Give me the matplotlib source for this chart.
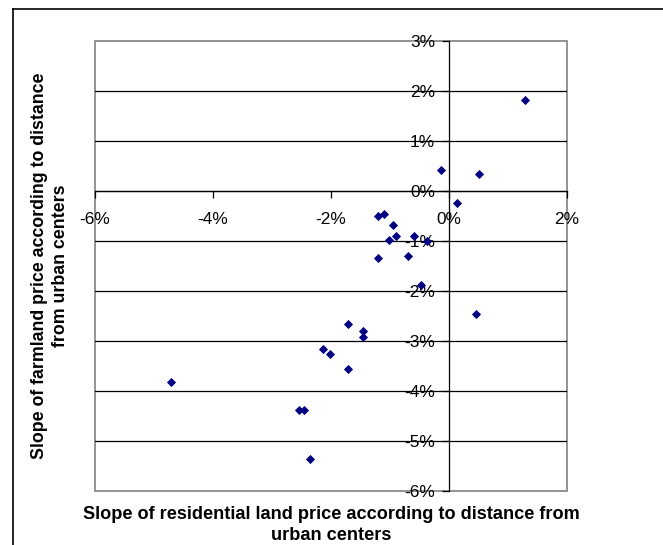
import matplotlib.pyplot as plt
import numpy as np
from matplotlib.ticker import FuncFormatter, MultipleLocator
from matplotlib.lines import Line2D

plt.rcParams['font.family'] = ['Liberation Sans', 'DejaVu Sans']

# slope of residential land price (%), slope of farmland price (%)
resid = [1.29, -0.14, 0.50, 0.13, -1.21, -1.11, -0.95, -0.90, -1.02, -0.59,
         -0.38, -1.20, -0.69, -0.48, 0.46, -1.72, -1.46, -1.46, -2.14, -2.02,
         -1.72, -4.72, -2.55, -2.45, -2.36]
farm = [1.82, 0.43, 0.34, -0.23, -0.49, -0.45, -0.67, -0.89, -0.98, -0.89,
        -0.99, -1.33, -1.30, -1.87, -2.46, -2.66, -2.80, -2.91, -3.16, -3.26,
        -3.55, -3.81, -4.37, -4.37, -5.35]

xlabel = "Slope of residential land price according to distance from\nurban centers"
ylabel = "Slope of farmland price according to distance\nfrom urban centers"

fig = plt.figure(figsize=(6.63, 5.45), dpi=100)
ax = fig.add_axes([95/663, 1-491/545, 472/663, 450/545])

ax.plot(resid, farm, linestyle='none', marker='D', markersize=4.5,
        markeredgewidth=0.6, color='#000080', zorder=5, clip_on=False)

ax.set_xlim(-6, 2)
ax.set_ylim(-6, 3)
ax.xaxis.set_major_locator(MultipleLocator(2))
ax.yaxis.set_major_locator(MultipleLocator(1))
pct = FuncFormatter(lambda v, p: "%d%%" % round(v))
ax.xaxis.set_major_formatter(pct)
ax.yaxis.set_major_formatter(pct)

for y in range(-5, 3):
    ax.axhline(y, color='black', lw=0.9, zorder=1)

# axes cross at zero, Excel style
ax.spines['left'].set_position(('data', 0))
ax.spines['bottom'].set_position(('data', 0))
ax.spines['right'].set_visible(False)
ax.spines['top'].set_visible(False)
for s in ['left', 'bottom']:
    ax.spines[s].set_color('black')
    ax.spines[s].set_linewidth(0.9)
ax.tick_params(axis='x', direction='out', length=5, width=0.9, pad=10, labelsize=12.4)
ax.tick_params(axis='y', direction='out', length=5, width=0.9, pad=5, labelsize=12.4)

# plot area border
ax.add_patch(plt.Rectangle((0, 0), 1, 1, transform=ax.transAxes, fill=False,
                           edgecolor='#808080', lw=1.2, zorder=0, clip_on=False))

fig.text(331/663, 1-525/545, xlabel, ha='center', va='center',
         fontsize=13.1, fontweight='bold', linespacing=1.3)
fig.text(50/663, 1-266/545, ylabel, ha='center', va='center', rotation=90,
         fontsize=12.8, fontweight='bold', linespacing=1.3)

# outer chart border (cut off at right and bottom)
fig.add_artist(Line2D([13/663, 13/663], [0, 1-9/545], color='black', lw=1.2,
                      transform=fig.transFigure))
fig.add_artist(Line2D([13/663, 1], [1-9/545, 1-9/545], color='black', lw=1.2,
                      transform=fig.transFigure))

fig.savefig('out.png', dpi=100)
